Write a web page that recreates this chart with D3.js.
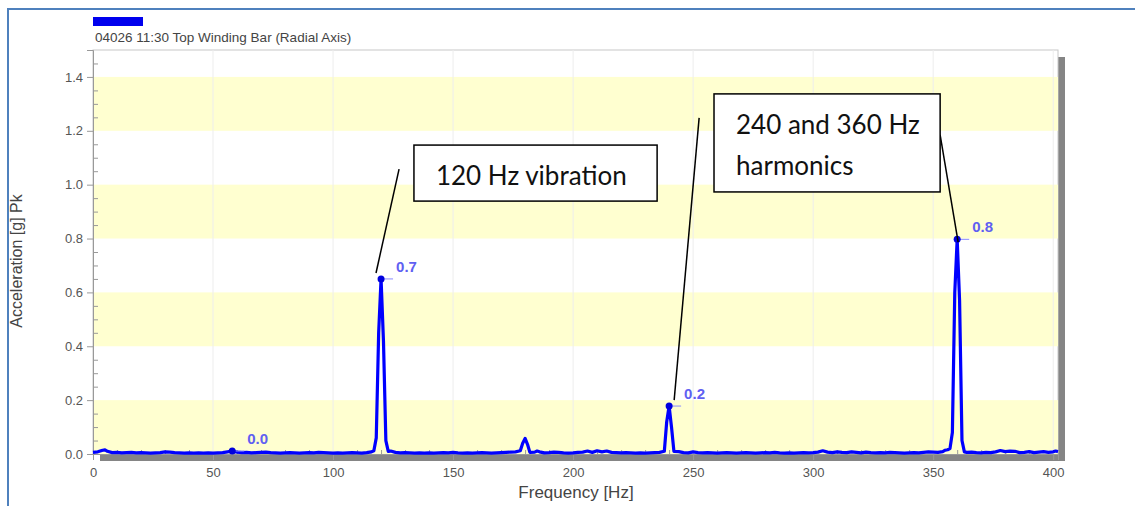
<!DOCTYPE html>
<html lang="en">
<head>
    <meta charset="UTF-8">
    <title>Top Winding Bar spectrum</title>
    <style>
        body { margin: 0; background: #fff; }
        svg text { font-family: 'Liberation Sans', Arial, sans-serif; }
    </style>
    <script src="https://d3js.org/d3.v7.min.js"></script>
</head>
<body>
    <svg width="1135" height="506"></svg>
    <script>
        // spectrum (Hz, g Pk)
        const freqHz = [
            0, 2, 4, 5, 6, 8, 10, 12, 14, 16, 18, 20, 22, 24, 26, 28, 30, 32, 34, 36, 38,
            40, 42, 44, 46, 48, 50, 52, 54, 56, 58, 60, 62, 64, 66, 68, 70, 72, 74, 76, 78,
            80, 82, 84, 86, 88, 90, 92, 94, 96, 98, 100, 102, 104, 106, 108, 110, 112, 114,
            116, 117, 118, 119, 120, 121, 122, 123, 124, 126, 128, 130, 132, 134, 136, 138,
            140, 142, 144, 146, 148, 150, 152, 154, 156, 158, 160, 162, 164, 166, 168, 170,
            172, 174, 176, 178, 179, 180, 181, 182, 184, 185, 186, 188, 190, 192, 194, 196,
            198, 200, 202, 204, 206, 208, 210, 212, 214, 216, 218, 220, 222, 224, 226, 228,
            230, 232, 234, 236, 238, 239, 240, 241, 242, 244, 246, 248, 250, 252, 254, 256,
            258, 260, 262, 264, 266, 268, 270, 272, 274, 276, 278, 280, 282, 284, 286, 288,
            290, 292, 294, 296, 298, 300, 302, 304, 306, 308, 310, 312, 314, 316, 318, 320,
            322, 324, 326, 328, 330, 332, 334, 336, 338, 340, 342, 344, 346, 348, 350, 352,
            354, 355, 356, 357, 358, 359, 360, 361, 362, 363, 364, 366, 368, 370, 372, 374,
            376, 378, 380, 382, 384, 386, 388, 390, 392, 394, 396, 398, 400, 401, 402
        ];
        const accelG = [
            0.006, 0.008, 0.014, 0.015, 0.010, 0.005, 0.006, 0.004, 0.005, 0.006, 0.004, 0.005, 0.004, 0.003, 0.004, 0.005, 0.008, 0.007, 0.005, 0.004, 0.003,
            0.004, 0.003, 0.004, 0.003, 0.004, 0.003, 0.004, 0.005, 0.008, 0.011, 0.007, 0.005, 0.006, 0.004, 0.005, 0.006, 0.007, 0.005, 0.004, 0.003,
            0.004, 0.005, 0.004, 0.003, 0.004, 0.005, 0.004, 0.006, 0.005, 0.004, 0.003, 0.004, 0.003, 0.004, 0.005, 0.004, 0.003, 0.005,
            0.008, 0.012, 0.060, 0.450, 0.650, 0.420, 0.050, 0.010, 0.011, 0.006, 0.004, 0.005, 0.004, 0.003, 0.004, 0.003,
            0.004, 0.003, 0.004, 0.005, 0.004, 0.006, 0.004, 0.003, 0.004, 0.003, 0.004, 0.005, 0.004, 0.003, 0.004, 0.005,
            0.006, 0.007, 0.008, 0.012, 0.040, 0.058, 0.036, 0.006, 0.007, 0.011, 0.008, 0.004, 0.005, 0.007, 0.006, 0.004,
            0.003, 0.004, 0.006, 0.007, 0.011, 0.006, 0.012, 0.008, 0.011, 0.006, 0.005, 0.004, 0.005, 0.004, 0.003, 0.004,
            0.003, 0.004, 0.005, 0.006, 0.010, 0.120, 0.178, 0.100, 0.010, 0.009, 0.005, 0.004, 0.008, 0.005, 0.004, 0.005,
            0.004, 0.003, 0.004, 0.005, 0.004, 0.003, 0.004, 0.005, 0.004, 0.003, 0.004, 0.005, 0.004, 0.006, 0.004, 0.003,
            0.004, 0.003, 0.004, 0.005, 0.004, 0.005, 0.007, 0.012, 0.007, 0.005, 0.008, 0.006, 0.005, 0.008, 0.006, 0.004,
            0.007, 0.005, 0.004, 0.005, 0.004, 0.006, 0.005, 0.004, 0.003, 0.004, 0.005, 0.004, 0.006, 0.008, 0.007, 0.006,
            0.009, 0.014, 0.016, 0.020, 0.080, 0.600, 0.797, 0.570, 0.050, 0.008, 0.006, 0.007, 0.005, 0.004, 0.006, 0.005,
            0.008, 0.013, 0.009, 0.011, 0.010, 0.005, 0.006, 0.009, 0.005, 0.007, 0.009, 0.006, 0.008, 0.011, 0.009
        ];

        // marked peaks
        const peakHz = [58, 120, 240, 360];
        const peakG = [0.011, 0.650, 0.178, 0.797];
        const peakLabels = ["0.0", "0.7", "0.2", "0.8"];

        const xTicks = [0, 50, 100, 150, 200, 250, 300, 350, 400];
        const yTicks = [0, 0.2, 0.4, 0.6, 0.8, 1.0, 1.2, 1.4];
        const bandStarts = [0, 0.4, 0.8, 1.2];

        // callouts, in data units (Hz, g)
        const callouts = [
            { lines: ["120 Hz vibration"], box: [133.7, 235.0, 1.147, 0.939],
              leaders: [[[127.5, 1.058], [117.9, 0.672]]] },
            { lines: ["240 and 360 Hz", "harmonics"], box: [258.7, 352.9, 1.337, 0.973],
              leaders: [[[252.5, 1.248], [242.1, 0.200]], [[352.9, 1.185], [360.4, 0.787]]] }
        ];

        const svg = d3.select("svg");
        const pLeft = 93, pRight = 1058, pTop = 50, pBottom = 454;

        const x = d3.scaleLinear().domain([0, 402]).range([pLeft, pRight]);
        const y = d3.scaleLinear().domain([0, 1.5]).range([pBottom, pTop]);

        // page frame lines
        svg.append("line").attr("x1", 8).attr("x2", 1135).attr("y1", 9).attr("y2", 9)
            .attr("stroke", "#4f81bd").attr("stroke-width", 2);
        svg.append("line").attr("x1", 8).attr("x2", 8).attr("y1", 8).attr("y2", 506)
            .attr("stroke", "#4f81bd").attr("stroke-width", 2);

        // legend swatch + title
        svg.append("rect").attr("x", 93).attr("y", 17).attr("width", 50).attr("height", 9)
            .attr("fill", "#0000ee");
        svg.append("text").attr("x", 95).attr("y", 42)
            .style("font-size", "13.5px").style("fill", "#444")
            .text("04026 11:30 Top Winding Bar (Radial Axis)");

        // shadow + plot background
        svg.append("rect").attr("x", pLeft + 7).attr("y", pTop + 7)
            .attr("width", pRight - pLeft).attr("height", pBottom - pTop)
            .attr("fill", "#858585");
        svg.append("rect").attr("x", pLeft).attr("y", pTop)
            .attr("width", pRight - pLeft).attr("height", pBottom - pTop)
            .attr("fill", "#fff").attr("stroke", "#c8c8c8");

        svg.selectAll("rect.band")
            .data(bandStarts)
            .enter().append("rect")
            .attr("class", "band")
            .attr("x", pLeft)
            .attr("width", pRight - pLeft)
            .attr("y", d => y(d + 0.2))
            .attr("height", d => y(d) - y(d + 0.2))
            .attr("fill", "#ffffd0");

        svg.selectAll("line.vgrid")
            .data(xTicks.filter(d => d > 0))
            .enter().append("line")
            .attr("class", "vgrid")
            .attr("x1", d => x(d)).attr("x2", d => x(d))
            .attr("y1", pTop).attr("y2", pBottom)
            .attr("stroke", "#ededed");

        // axes
        svg.append("g")
            .attr("transform", `translate(${pLeft},0)`)
            .call(d3.axisLeft(y).tickValues(yTicks).tickSize(6).tickPadding(4)
                .tickFormat(d3.format(".1f")));
        const yMinor = svg.append("g")
            .attr("transform", `translate(${pLeft},0)`)
            .call(d3.axisRight(y)
                .tickValues(d3.range(1, 30).map(i => i * 0.05).filter((d, i) => (i + 1) % 4 != 0))
                .tickSize(5).tickFormat(""));
        yMinor.select(".domain").remove();

        svg.append("g")
            .attr("transform", `translate(0,${pBottom})`)
            .call(d3.axisBottom(x).tickValues(xTicks).tickSize(6).tickPadding(8));
        const xMinor = svg.append("g")
            .attr("transform", `translate(0,${pBottom})`)
            .call(d3.axisTop(x)
                .tickValues(d3.range(1, 41).map(i => i * 10).filter(d => d % 50 != 0))
                .tickSize(4).tickFormat(""));
        xMinor.select(".domain").remove();

        svg.selectAll(".tick line, .domain").attr("stroke", "#999");
        svg.selectAll(".tick text").style("font-size", "13px").style("fill", "#555")
            .style("font-family", "'Liberation Sans', Arial, sans-serif");

        svg.append("text")
            .attr("transform", `translate(22,261) rotate(-90)`)
            .attr("text-anchor", "middle")
            .style("font-size", "16px").style("fill", "#444")
            .text("Acceleration [g] Pk");
        svg.append("text")
            .attr("x", 576).attr("y", 498)
            .attr("text-anchor", "middle")
            .style("font-size", "17px").style("fill", "#444")
            .text("Frequency [Hz]");

        // spectrum line
        const spectrum = freqHz.map((f, i) => [f, accelG[i]]);
        svg.append("path")
            .datum(spectrum)
            .attr("fill", "none")
            .attr("stroke", "#0000ff")
            .attr("stroke-width", 3.2)
            .attr("stroke-linejoin", "round")
            .attr("d", d3.line().x(d => x(d[0])).y(d => y(d[1])));

        // peak markers
        const peaks = peakHz.map((f, i) => ({ f: f, g: peakG[i], label: peakLabels[i] }));
        const pk = svg.selectAll("g.peak")
            .data(peaks)
            .enter().append("g")
            .attr("class", "peak")
            .attr("transform", d => `translate(${x(d.f)},${y(d.g)})`);
        pk.append("line").attr("x1", 2).attr("x2", 12).attr("y1", 0).attr("y2", 0)
            .attr("stroke", "#8a8aff").attr("stroke-width", 1);
        pk.append("circle").attr("r", 3.5).attr("fill", "#0000dd");
        pk.append("text")
            .attr("x", 15).attr("y", -7)
            .style("font-size", "15px").style("font-weight", "700").style("fill", "#6060f2")
            .text(d => d.label);

        // callouts
        callouts.forEach(c => {
            c.leaders.forEach(l => {
                svg.append("line")
                    .attr("x1", x(l[0][0])).attr("y1", y(l[0][1]))
                    .attr("x2", x(l[1][0])).attr("y2", y(l[1][1]))
                    .attr("stroke", "#000").attr("stroke-width", 1.5);
            });
            const bx = x(c.box[0]), by = y(c.box[2]);
            svg.append("rect")
                .attr("x", bx).attr("y", by)
                .attr("width", x(c.box[1]) - bx).attr("height", y(c.box[3]) - by)
                .attr("fill", "#fff").attr("stroke", "#000").attr("stroke-width", 1.5);
            c.lines.forEach((t, i) => {
                svg.append("text")
                    .attr("x", bx + 22).attr("y", by + 40 + i * 41)
                    .style("font-family", "Lato, sans-serif")
                    .style("font-size", "26px").style("fill", "#111")
                    .text(t);
            });
        });
    </script>
</body>
</html>
